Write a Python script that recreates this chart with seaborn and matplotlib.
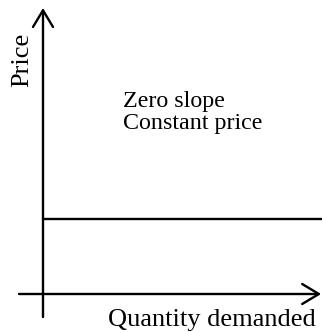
import matplotlib
matplotlib.use("Agg")
import matplotlib.pyplot as plt
import seaborn as sns
import pandas as pd

# Demand curve with zero slope: price stays the same at every quantity
quantity = [0, 10]
price = [3, 3]
x_label = "Quantity demanded"
y_label = "Price"
notes = ["Zero slope", "Constant price"]

sns.set_theme(style="white")
plt.rcParams["font.family"] = ["Liberation Serif", "DejaVu Serif"]

W, H = 322, 332
fig = plt.figure(figsize=(W / 100, H / 100), dpi=100)
ax = fig.add_axes([0, 0, 1, 1])

# origin sits at pixel (43, 294); 27.9 px per quantity unit, 25 px per price unit
ox, oy, sx, sy = 43, 294, 27.9, 25.0
ax.set_xlim(-ox / sx, (W - ox) / sx)
ax.set_ylim(-(H - oy) / sy, oy / sy)
ax.axis("off")

df = pd.DataFrame({"Quantity": quantity, "Price": price})
sns.lineplot(data=df, x="Quantity", y="Price", ax=ax, color="black", lw=1.7)

arrow = dict(arrowstyle="->,head_length=0.5,head_width=0.3", color="black", lw=1.7,
             mutation_scale=24, shrinkA=0, shrinkB=0)
# vertical (price) axis
ax.annotate("", xy=(0, 11.44), xytext=(0, -0.92), arrowprops=arrow)
# horizontal (quantity) axis
ax.annotate("", xy=(9.97, 0), xytext=(-0.86, 0), arrowprops=arrow)

def px(x, y):
    return x / W, 1 - y / H

fig.text(*px(212, 326), x_label, fontsize=19, ha="center", va="baseline", color="black")
fig.text(*px(28, 60), y_label, fontsize=19, rotation=90, ha="center", va="baseline",
         color="black", rotation_mode="anchor")
fig.text(*px(123, 107), notes[0], fontsize=17.3, ha="left", va="baseline", color="black")
fig.text(*px(123, 129), notes[1], fontsize=17.3, ha="left", va="baseline", color="black")

fig.savefig("out.png", dpi=100)
